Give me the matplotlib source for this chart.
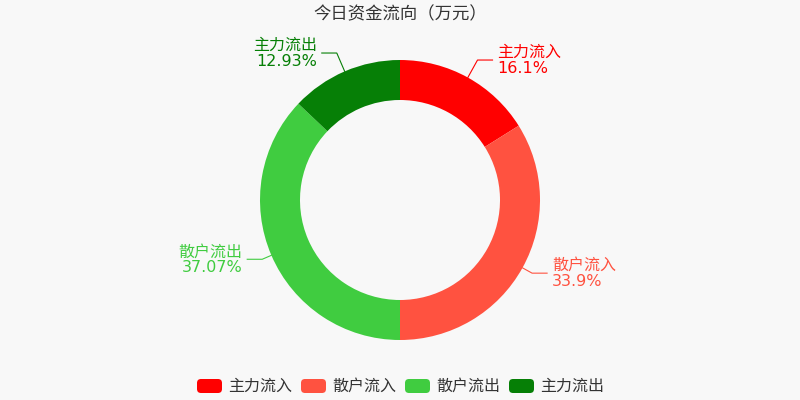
import matplotlib
matplotlib.use("Agg")
import matplotlib.pyplot as plt
from matplotlib.patches import FancyBboxPatch
import numpy as np

plt.rcParams['font.family'] = ['DejaVu Sans', 'Noto Sans CJK SC']

# data
labels = ["主力流入", "散户流入", "散户流出", "主力流出"]
values = [16.1, 33.9, 37.07, 12.93]
colors = ["#ff0000", "#ff5240", "#40cc40", "#067f06"]
title = "今日资金流向（万元）"

W, H = 800, 400
cx, cy = 400, 200
r_out, r_in = 140, 100
lead = [20, 11, 10, 20]   # first segment of each leader line

fig = plt.figure(figsize=(8, 4), dpi=100, facecolor="#f8f8f8")
ax = fig.add_axes([0, 0, 1, 1])

ax.pie(values, colors=colors, startangle=90, counterclock=False,
       radius=r_out, center=(cx, cy),
       wedgeprops=dict(width=r_out - r_in, linewidth=0))
ax.set_xlim(0, W)
ax.set_ylim(0, H)
ax.set_aspect("equal")
ax.axis("off")

# labels with leader lines
total = sum(values)
cum = 0
for lab, v, c, ln in zip(labels, values, colors, lead):
    mid = (cum + v / 2) / total * 2 * np.pi
    cum += v
    sx, sy = np.sin(mid), np.cos(mid)
    x0, y0 = cx + r_out * sx, cy + r_out * sy
    x1, y1 = cx + (r_out + ln) * sx, cy + (r_out + ln) * sy
    side = 1 if sx > 0 else -1
    x2 = x1 + side * 15
    ax.plot([x0, x1, x2], [y0, y1, y1], color=c, lw=0.8)
    ha = "left" if side > 0 else "right"
    ax.text(x2 + side * 5, y1 + 7.5, lab, color=c, fontsize=11.5, ha=ha, va="center")
    ax.text(x2 + side * 5, y1 - 8, f"{v:g}%", color=c, fontsize=11.5, ha=ha, va="center")

fig.text(0.5, 1 - 14 / H, title, ha="center", va="center", fontsize=12.5,
         color="#333333")

# legend
lx = 197
for lab, c in zip(labels, colors):
    box = FancyBboxPatch((lx, H - 393), 25, 14, boxstyle="round,pad=0,rounding_size=4",
                         facecolor=c, edgecolor="none")
    ax.add_patch(box)
    ax.text(lx + 31, H - 386, lab, fontsize=11.5, color="#333333", va="center", ha="left")
    lx += 104

fig.savefig("out.png", dpi=100, facecolor=fig.get_facecolor())
